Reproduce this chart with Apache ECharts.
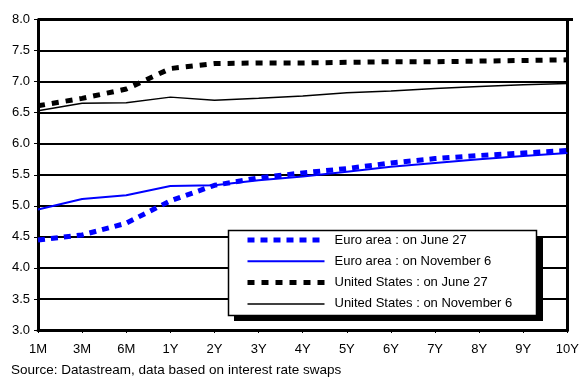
<!DOCTYPE html>
<html>
<head>
<meta charset="utf-8">
<script src="https://cdn.jsdelivr.net/npm/echarts@6/dist/echarts.min.js"></script>
<style>
  html, body { margin: 0; padding: 0; background: #fff; }
  #chart { width: 582px; height: 378px; }
</style>
</head>
<body>
<div id="chart"></div>
<script>
// Swap-rate yield curves by maturity
const maturities = ['1M', '3M', '6M', '1Y', '2Y', '3Y', '4Y', '5Y', '6Y', '7Y', '8Y', '9Y', '10Y'];
const euroJune27 = [4.45, 4.53, 4.72, 5.08, 5.33, 5.45, 5.53, 5.60, 5.69, 5.76, 5.81, 5.85, 5.89];
const euroNov6   = [4.94, 5.11, 5.17, 5.32, 5.33, 5.41, 5.47, 5.55, 5.63, 5.69, 5.75, 5.80, 5.85];
const usJune27   = [6.61, 6.73, 6.88, 7.21, 7.29, 7.30, 7.30, 7.31, 7.32, 7.32, 7.33, 7.34, 7.35];
const usNov6     = [6.53, 6.65, 6.66, 6.75, 6.70, 6.73, 6.77, 6.82, 6.85, 6.89, 6.92, 6.95, 6.97];
const seriesNames = [
  'Euro area : on June 27',
  'Euro area : on November 6',
  'United States : on June 27',
  'United States : on November 6'
];

const font = 'Liberation Sans, Arial, sans-serif';
const chart = echarts.init(document.getElementById('chart'), null, { renderer: 'canvas' });

const styles = [
  { color: '#0000ff', width: 5, type: [7, 6] },
  { color: '#0000ff', width: 2, type: 'solid' },
  { color: '#000000', width: 5, type: [7, 7] },
  { color: '#000000', width: 1.5, type: 'solid' }
];
const values = [euroJune27, euroNov6, usJune27, usNov6];

const series = seriesNames.map((name, i) => ({
  name, type: 'line', data: values[i],
  symbol: 'none', silent: true, animation: false,
  lineStyle: { color: styles[i].color, width: styles[i].width, type: styles[i].type, cap: 'butt' },
  itemStyle: { color: styles[i].color }
}));

chart.setOption({
  backgroundColor: '#fff',
  animation: false,
  grid: { left: 38, right: 9, top: 19.5, bottom: 48, show: false },
  xAxis: {
    type: 'category',
    data: maturities,
    boundaryGap: false,
    axisLine: { lineStyle: { color: '#000', width: 3 } },
    axisTick: { show: true, length: 3, alignWithLabel: true, lineStyle: { color: '#000', width: 1 } },
    axisLabel: { color: '#000', fontFamily: font, fontSize: 13, margin: 13 },
    splitLine: { show: false }
  },
  yAxis: [{
    type: 'value',
    min: 3, max: 8, interval: 0.5,
    axisLine: { show: true, lineStyle: { color: '#000', width: 3 } },
    axisTick: { show: true, length: 4, lineStyle: { color: '#000', width: 1 } },
    axisLabel: { color: '#000', fontFamily: font, fontSize: 13, margin: 8,
                 formatter: v => v.toFixed(1) },
    splitLine: { show: true, lineStyle: { color: '#000', width: 2 } }
  }, {
    type: 'value',
    min: 3, max: 8, interval: 0.5,
    position: 'right',
    axisLine: { show: true, lineStyle: { color: '#000', width: 3 } },
    axisTick: { show: false },
    axisLabel: { show: false },
    splitLine: { show: false }
  }],
  legend: {
    orient: 'vertical',
    left: 245, top: 233,
    padding: 0,
    itemWidth: 77, itemHeight: 14, itemGap: 7.3,
    itemStyle: { opacity: 0 },
    textStyle: { color: '#000', fontFamily: font, fontSize: 13, lineHeight: 14, padding: [0, 0, 0, 5] },
    data: seriesNames.map((name, i) => ({
      name,
      lineStyle: { color: styles[i].color, width: styles[i].width, type: styles[i].type, cap: 'butt' }
    }))
  },
  graphic: [{
    // legend frame: solid drop shadow, then white box with border
    type: 'rect', z: 3, silent: true,
    shape: { x: 234, y: 236, width: 309, height: 85 },
    style: { fill: '#000' }
  }, {
    type: 'rect', z: 3, silent: true,
    shape: { x: 228.5, y: 230.5, width: 308, height: 85 },
    style: { fill: '#fff', stroke: '#000', lineWidth: 1.5 }
  }, {
    type: 'text', left: 11, top: 363,
    style: { text: 'Source: Datastream, data based on interest rate swaps',
             font: '13.5px ' + font, fill: '#000' }
  }, {
    // heavy top frame line
    type: 'line', silent: true, z: 3,
    shape: { x1: 38, y1: 19.5, x2: 573, y2: 19.5 },
    style: { stroke: '#000', lineWidth: 3 }
  }],
  series
});
</script>
</body>
</html>
